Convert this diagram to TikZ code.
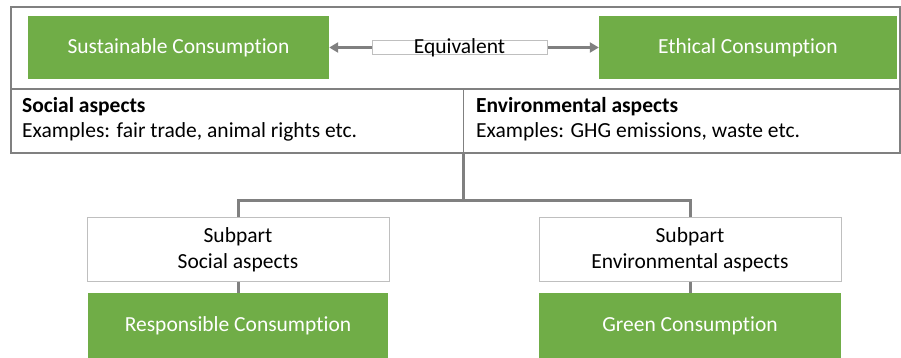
\documentclass[tikz,border=0pt]{standalone}
\usepackage{fontspec}
\setmainfont[Ligatures={NoCommon}]{Carlito}
\usetikzlibrary{arrows.meta}
\definecolor{cgreen}{HTML}{70AD47}
\definecolor{cline}{HTML}{808080}
\definecolor{cthin}{HTML}{BFBFBF}
\begin{document}
\begin{tikzpicture}[x=1pt,y=-1pt,
  greenbox/.style={fill=cgreen,draw=none,text=white,inner sep=0pt,font=\fontsize{21.5}{26}\selectfont},
  subbox/.style={draw=cthin,line width=1pt,fill=white,align=center,inner sep=0pt,font=\fontsize{21.5}{26}\selectfont},
  conn/.style={draw=cline,line width=3pt},
  frame/.style={draw=cline,line width=1.5pt},
  arr/.style={draw=cline,line width=3.5pt,-{Triangle[length=9pt,width=10pt]}},
  txt/.style={anchor=west,inner sep=0pt,font=\fontsize{21.5}{26}\selectfont}]
\useasboundingbox (0,0) rectangle (901,358);
% outer frame
\draw[frame] (11,7) rectangle (900,153);
\draw[frame] (11,89) -- (900,89);
\draw[frame] (463.5,89) -- (463.5,153);
\coordinate (divb) at (463.5,153);
% top boxes
\node[greenbox,minimum width=301pt,minimum height=63pt] (sus) at (178.5,47.5) {Sustainable Consumption};
\node[greenbox,minimum width=298pt,minimum height=63pt] (eth) at (748,47.5) {Ethical Consumption};
\node[draw=cthin,line width=1pt,fill=white,minimum width=175pt,minimum height=14pt,inner sep=0pt] (eqb) at (459.5,47.5) {};
\node[inner sep=0pt,font=\fontsize{21.5}{26}\selectfont] (eq) at (459.5,47.5) {Equivalent};
\draw[arr] (eqb.west) -- (sus.east);
\draw[arr] (eqb.east) -- (eth.west);
% aspect texts
\node[txt,font=\fontsize{21.5}{26}\selectfont\bfseries] (soc) at (22,107) {Social aspects};
\node[txt] (socex) at (22,132) {Examples: fair trade, animal rights etc.};
\node[txt,font=\fontsize{21.5}{26}\selectfont\bfseries] (env) at (476,107) {Environmental aspects};
\node[txt] (envex) at (476,132) {Examples: GHG emissions, waste etc.};
% bottom
\node[subbox,minimum width=302pt,minimum height=64pt] (sub1) at (238,249.5) {Subpart\\Social aspects};
\node[subbox,minimum width=302pt,minimum height=64pt] (sub2) at (690,249.5) {Subpart\\Environmental aspects};
\node[greenbox,minimum width=300pt,minimum height=66pt] (resp) at (238,326) {Responsible Consumption};
\node[greenbox,minimum width=302pt,minimum height=66pt] (gree) at (690,326) {Green Consumption};
\coordinate (junc) at (463.5,200);
\draw[conn] (divb) -- (junc);
\draw[conn] (sub1.north) -- (sub1.north |- junc) -- (sub2.north |- junc) -- (sub2.north);
\draw[conn] (sub1.south) -- (resp.north);
\draw[conn] (sub2.south) -- (gree.north);
\end{tikzpicture}
\end{document}
